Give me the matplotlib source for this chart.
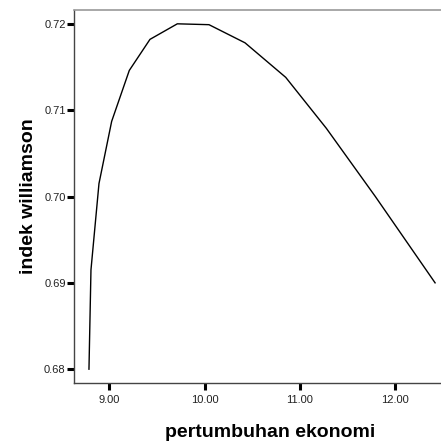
import matplotlib
matplotlib.use("Agg")
import matplotlib.pyplot as plt

# kurva indek williamson vs pertumbuhan ekonomi
pertumbuhan = [8.787, 8.808, 8.892, 9.025, 9.210, 9.427, 9.714,
               10.046, 10.424, 10.851, 11.277, 11.791, 12.418]
williamson  = [0.6800, 0.6915, 0.7015, 0.7087, 0.7146, 0.7182, 0.7200,
               0.7199, 0.7178, 0.7138, 0.7079, 0.7000, 0.6900]
x_ticks = [9.0, 10.0, 11.0, 12.0]
y_ticks = [0.68, 0.69, 0.70, 0.71, 0.72]

plt.rcParams["font.family"] = ["Liberation Sans", "DejaVu Sans"]

fig = plt.figure(figsize=(4.41, 4.44), dpi=100)
ax = fig.add_axes([74 / 441, 61 / 444, 367 / 441, 373 / 444])

ax.plot(pertumbuhan, williamson, color="black", lw=1.0)

ax.set_xlim(8.63, 12.48)
ax.set_ylim(0.6784, 0.7216)
ax.set_xticks(x_ticks)
ax.set_xticklabels([f"{v:.2f}" for v in x_ticks])
ax.set_yticks(y_ticks)
ax.set_yticklabels([f"{v:.2f}" for v in y_ticks])
ax.tick_params(direction="out", length=5, width=2.2, color="black",
               labelsize=8, labelcolor="#222222")
ax.tick_params(axis="y", pad=1)
ax.tick_params(axis="x", pad=3.5)

ax.spines["right"].set_visible(False)
ax.spines["left"].set_color("#444444")
ax.spines["bottom"].set_color("#444444")
ax.spines["top"].set_color("#999999")
ax.spines["top"].set_linewidth(1.2)
ax.spines["left"].set_linewidth(1.0)
ax.spines["bottom"].set_linewidth(1.0)

ax.set_xlabel("pertumbuhan ekonomi", fontsize=14, fontweight="bold")
ax.xaxis.label.set_va("baseline")
ax.xaxis.set_label_coords(0.534, -0.1448)
ax.set_ylabel("indek williamson", fontsize=14, fontweight="bold",
              rotation_mode="anchor", va="baseline", ha="center")
ax.yaxis.set_label_coords(-0.1117, 0.5)

fig.savefig("out.png", dpi=100)
plt.close(fig)
